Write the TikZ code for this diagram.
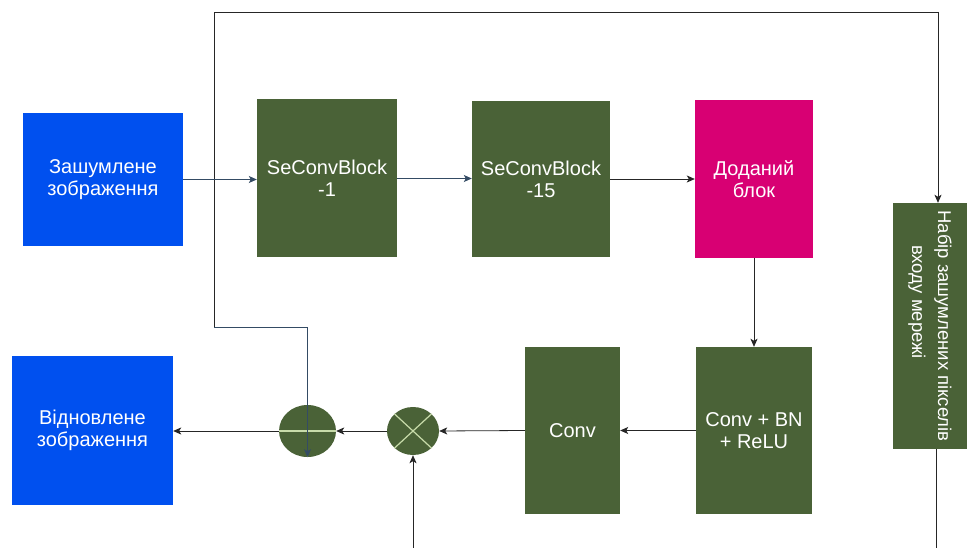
\documentclass[tikz,border=0pt]{standalone}
\usepackage{fontspec}
\setmainfont{Liberation Sans}
\usetikzlibrary{shapes.geometric,arrows.meta}
\definecolor{dgreen}{RGB}{74,98,55}
\definecolor{cblue}{RGB}{0,80,239}
\definecolor{magent}{RGB}{216,0,115}
\definecolor{slate}{RGB}{52,75,100}
\definecolor{lgreen}{RGB}{200,220,170}
\begin{document}
\begin{tikzpicture}[x=1pt,y=-1pt,
  blk/.style={rectangle,inner sep=0pt,align=center,text=white,
    font=\fontsize{20}{22}\selectfont},
  gblk/.style={blk,fill=dgreen},
  op/.style={ellipse,inner sep=0pt,fill=dgreen},
  conn/.style={line width=0.8pt,draw=black!85},
  arr/.style={conn,-{Stealth[length=8pt,width=7pt,inset=2pt]}}]
\useasboundingbox (0,0) rectangle (967,548);
\fill[white] (0,0) rectangle (967,548);
% nodes
\node[blk,fill=cblue,minimum width=160pt,minimum height=133pt] (in) at (103,179.5) {Зашумлене\\зображення};
\node[gblk,minimum width=140pt,minimum height=158pt] (b1) at (327,178.5) {SeConvBlock\\-1};
\node[gblk,minimum width=138pt,minimum height=156pt] (b15) at (541,179) {SeConvBlock\\-15};
\node[blk,fill=magent,minimum width=118pt,minimum height=158pt] (add) at (754,179) {Доданий\\блок};
\node[gblk,minimum width=116pt,minimum height=167pt] (cbr) at (754,430.5) {Conv + BN\\+ ReLU};
\node[gblk,minimum width=95pt,minimum height=167pt] (conv) at (572.5,430.5) {Conv};
\node[op,minimum width=52pt,minimum height=48pt] (xop) at (413,431) {};
\node[op,minimum width=57pt,minimum height=52pt] (plus) at (307.5,431) {};
\node[blk,fill=cblue,minimum width=161pt,minimum height=149pt] (out) at (92.5,430.5) {Відновлене\\зображення};
\node[gblk,rotate=-90,minimum width=246pt,minimum height=74pt,
  font=\fontsize{18.5}{26}\selectfont] (side) at (930,326) {Набір зашумлених пікселів\\входу мережі\hspace*{48pt}};
% operator marks
\draw[lgreen,line width=1.2pt] (xop.north east) -- (xop.south west) (xop.north west) -- (xop.south east);
\draw[lgreen,line width=1.2pt] (plus.west) -- (plus.east) (plus.north) -- (plus.south);
% coordinates
\coordinate (j) at (214,327);
\coordinate (tr) at (938,12);
\coordinate (bx) at (413,548);
\coordinate (bs) at (936,548);
% connectors
\draw[conn] (j) |- (tr);
\draw[arr] (tr) -- (tr |- side.west);
\draw[arr,draw=slate] (in.east) -- (in.east -| b1.west);
\draw[arr,draw=slate] (b1.east) -- (b1.east -| b15.west);
\draw[arr] (b15.east) -- (b15.east -| add.west);
\draw[arr] (add.south) -- (cbr.north);
\draw[arr] (cbr.west) -- (conv.east);
\draw[arr] (conv.west) -- (xop.east);
\draw[arr] (xop.west) -- (plus.east);
\draw[arr] (plus.west) -- (plus.west -| out.east);
\draw[arr,draw=slate] (j) -| (plus.south);
\draw[arr] (bx) -- (xop.south);
\draw[conn] (bs |- side.east) -- (bs);
\end{tikzpicture}
\end{document}
